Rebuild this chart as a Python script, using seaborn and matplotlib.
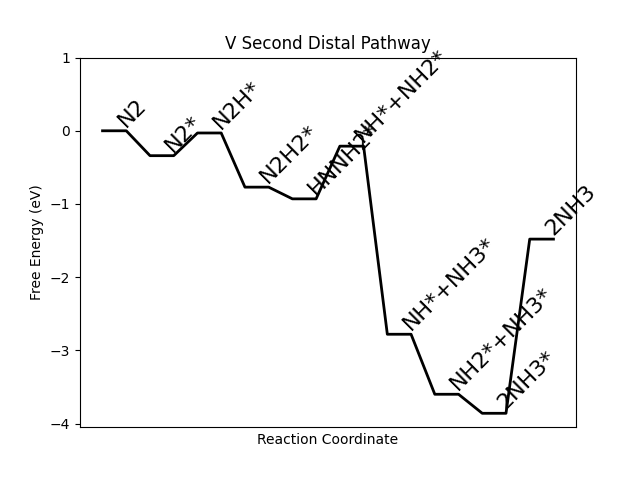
import matplotlib
matplotlib.use("Agg")
import matplotlib.pyplot as plt
import seaborn as sns
import pandas as pd

states = ["N2", "N2*", "N2H*", "N2H2*", "HNNH2*", "NH*+NH2*",
          "NH*+NH3*", "NH2*+NH3*", "2NH3*", "2NH3"]
energies = [0.0, -0.34, -0.03, -0.77, -0.93, -0.21, -2.78, -3.60, -3.86, -1.48]

xs, ys = [], []
for i, e in enumerate(energies):
    xs += [2 * i, 2 * i + 1]
    ys += [e, e]
df = pd.DataFrame({"x": xs, "y": ys})

fig, ax = plt.subplots(figsize=(6.4, 4.8), dpi=100)
sns.lineplot(data=df, x="x", y="y", sort=False, estimator=None,
             color="black", linewidth=2, ax=ax)
for i, (s, e) in enumerate(zip(states, energies)):
    ax.text(2 * i + 0.5, e, s, rotation=45, fontsize=16,
            ha="left", va="bottom", rotation_mode="default")

ax.set_xlim(-0.95, 19.95)
ax.set_ylim(-4.05, 1)
ax.set_yticks([1, 0, -1, -2, -3, -4])
ax.set_xticks([])
ax.set_title("V Second Distal Pathway")
ax.set_xlabel("Reaction Coordinate")
ax.set_ylabel("Free Energy (eV)")
fig.savefig("out.png", dpi=100)
